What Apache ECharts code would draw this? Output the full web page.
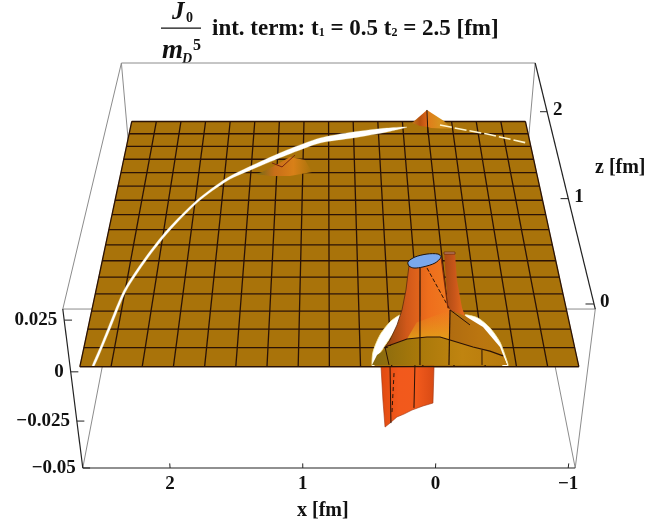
<!DOCTYPE html>
<html>
<head>
<meta charset="utf-8">
<title>int. term</title>
<script src="https://cdn.jsdelivr.net/npm/echarts@6/dist/echarts.min.js"></script>
<style>
  html, body { margin: 0; background: #fff; }
  #chart { width: 672px; height: 524px; }
</style>
</head>
<body>
<div id="chart"></div>
<script>
// tick labels
const xTicks = [2, 1, 0, -1]
const zTicks = [0, 1, 2]
const hTicks = [-0.05, -0.025, 0, 0.025]
const hLabels = ['\u22120.05', '\u22120.025', '0', '0.025']
const xLabels = ['2', '1', '0', '\u22121']

// surface mesh, 16 x 16 cells, heights are flat outside the peaks
const meshX = [-1, -0.775, -0.55, -0.325, -0.1, 0.125, 0.35, 0.575, 0.8, 1.025, 1.25, 1.475, 1.7, 1.925, 2.15, 2.375, 2.6]
const meshZ = [0, 0.1625, 0.325, 0.4875, 0.65, 0.8125, 0.975, 1.1375, 1.3, 1.4625, 1.625, 1.7875, 1.95, 2.1125, 2.275, 2.4375, 2.6]
const meshH = meshZ.map(() => meshX.map(() => 0))

// [x, z, height]
const arcUpper = [[2.513,0.006,0],[2.478,0.185,0],[2.45,0.344,0],[2.385,0.687,0],[2.265,1.003,0],[2.124,1.296,0],[1.91,1.628,0],[1.677,1.884,0],[1.461,2.041,0],[1.17,2.228,0],[0.878,2.382,0],[0.579,2.46,0],[0.27,2.513,0],[0.087,2.526,0]]
const arcLower = [[2.497,0.006,0],[2.46,0.185,0],[2.43,0.344,0],[2.367,0.677,0],[2.247,0.99,0],[2.106,1.28,0],[1.897,1.61,0],[1.668,1.855,0],[1.458,1.993,0],[1.168,2.165,0],[0.877,2.317,0],[0.581,2.382,0],[0.272,2.46,0]]
const arcRight = [[-0.215,2.553,0],[-0.392,2.5,0],[-0.629,2.434,0],[-0.972,2.317,0]]
const crescentLeft = [[0.492,0.006,0],[0.481,0.124,0],[0.424,0.272,0],[0.344,0.389,0],[0.265,0.452,0],[0.244,0.425,0],[0.335,0.272,0],[0.414,0.141,0],[0.454,0.073,0],[0.478,0.006,0]]
const crescentRight = [[-0.225,0.452,0],[-0.32,0.425,0],[-0.4,0.335,0],[-0.458,0.211,0],[-0.484,0.073,0],[-0.49,0.006,0],[-0.453,0.006,0],[-0.427,0.141,0],[-0.37,0.272,0],[-0.291,0.362,0]]
const topRing = [[0.227,0.375,0.0302],[0.173,0.421,0.0302],[0.083,0.449,0.0302],[0.002,0.449,0.0302],[-0.018,0.421,0.0302],[0.031,0.365,0.0302],[0.121,0.329,0.0302],[0.187,0.319,0.0302],[0.222,0.338,0.0302]]
const spikeCap = [[-0.044,0.468,0.0302],[-0.124,0.468,0.0302],[-0.123,0.449,0.0302],[-0.042,0.449,0.0302]]
const hanging = [[0.427,0,-0.0002],[0.045,0,0.0003],[0.039,0,-0.0184],[0.111,0,-0.0199],[0.191,0,-0.022],[0.249,0,-0.0241],[0.3,0,-0.0256],[0.35,0,-0.0288],[0.386,0,-0.0309],[0.407,0,-0.0168]]
const farLeft = [[-0.09,2.55,0.0085],[0.041,2.55,0.0012],[-0.033,2.55,-0.0004],[-0.106,2.55,-0.001]]
const farRight = [[-0.09,2.55,0.0085],[-0.106,2.55,-0.001],[-0.134,2.55,-0.0016],[-0.326,2.55,-0.0021],[-0.249,2.55,0.0024]]
const nearPeak = [[1.437,2.04,-0.0049],[1.384,2.04,-0.0038],[1.26,2.04,0.0001],[1.137,2.04,0.0044],[1.007,2.04,0.0028],[0.946,2.04,-0.0038],[1.14,2.04,-0.006],[1.315,2.04,-0.006]]
const nearRidge = [[1.295,2.04,0.0012],[1.208,2.04,-0.001],[1.093,2.04,0.0055]]
const trunk = [[0.222,0.338,0.0302],[0.238,0.33,0.0191],[0.262,0.33,0.0093],[0.295,0.33,0.0018],[0.344,0.33,-0.0058],[0.38,0.33,-0.0094],[0.217,0.33,-0.0053],[0.068,0.33,-0.0043],[-0.03,0.33,-0.0043],[-0.106,0.33,-0.0058],[-0.093,0.33,0.0093],[-0.077,0.33,0.0102],[-0.018,0.421,0.0302]]
const spike = [[-0.044,0.468,0.0302],[-0.124,0.468,0.0302],[-0.131,0.33,0.0239],[-0.181,0.33,0.0102],[-0.207,0.33,0.0063],[-0.093,0.33,0.0093],[-0.077,0.33,0.0102],[-0.051,0.33,0.0239]]
const skirtRight = [[-0.093,0.33,0.0093],[-0.207,0.33,0.0063],[-0.346,0.33,0.0008],[-0.485,0.33,-0.0094],[-0.55,0.33,-0.0187],[-0.117,0.33,-0.0187]]
const skirtRim = [[0.38,0.33,-0.0094],[0.217,0.33,-0.0053],[0.068,0.33,-0.0043],[-0.03,0.33,-0.0043],[-0.106,0.33,-0.0058],[-0.282,0.33,-0.0094],[-0.412,0.33,-0.0115],[-0.514,0.33,-0.014]]
const skirtLow = [[0.475,0.33,-0.0187],[0.439,0.33,-0.0135],[0.343,0.33,-0.0089],[0.217,0.33,-0.0053],[0.068,0.33,-0.0043],[-0.03,0.33,-0.0043],[-0.106,0.33,-0.0058],[-0.282,0.33,-0.0094],[-0.412,0.33,-0.0115],[-0.514,0.33,-0.014],[-0.55,0.33,-0.0187]]
const glow = [[0.15,0.33,0.003],[-0.093,0.33,0.0093],[-0.106,0.33,-0.0058],[-0.03,0.33,-0.0043],[0.068,0.33,-0.0043],[0.217,0.33,-0.0053]]

// box limits
const xMin = -1.053, xMax = 2.658
const zMin = -0.043, zMax = 2.649
const hMin = -0.05, hMax = 0.0302

// camera, fitted to the corners of the box
function project(x, z, h) {
  const D = 0.016 + 0.3715 * z
  const H = (h + 0.05) / 0.0802
  const X = (0.8025 - x) * 132.7
  const w = 1 + 0.2653 * D - 0.0752 * H
  return [(329 + X + 86.4 * D - 24.7 * H) / w, (468 - 210.8 * D - 182.2 * H) / w]
}

const lineColor = '#2a1206'
const ink = '#111'
const serif = '"Liberation Serif"'
const grad = (x2, y2, stops) => new echarts.graphic.LinearGradient(0, 0, x2, y2,
  stops.map((c, i) => ({ offset: i / (stops.length - 1), color: c })))

const marks = []
const poly = (pts, fill, stroke, lineWidth, smooth) => marks.push({ kind: 'polygon', pts, fill, stroke, lineWidth: lineWidth || 0, smooth })
const line = (pts, stroke, lineWidth, dash) => marks.push({ kind: 'polyline', pts, stroke, lineWidth: lineWidth || 1, dash })
const label = (pt, text, dx, dy, align) => marks.push({ kind: 'text', pt, text, dx, dy, align })

// back and hidden box edges
const grey = '#8c8c8c', black = '#222'
const c = (i, j, k) => [i ? xMax : xMin, j ? zMax : zMin, k ? hMax : hMin]
;[
  [c(0,1,1), c(1,1,1)], [c(1,1,1), c(1,0,1)], [c(1,0,1), c(0,0,1)], [c(0,0,1), c(0,0,0)],
  [c(1,1,1), c(1,1,0)], [c(0,1,1), c(0,1,0)], [c(1,0,0), c(1,1,0)], [c(0,0,0), c(0,1,0)]
].forEach((e) => line(e, grey, 1))
line([c(1,0,0), c(1,0,1)], black, 1.2)
line([c(0,0,0), c(1,0,0)], black, 1.2)
line([c(0,0,1), c(0,1,1)], black, 1.2)

// surface cells and mesh lines
const node = (i, j) => [meshX[j], meshZ[i], meshH[i][j]]
const surfaceColor = '#a9730a'
for (let i = 0; i < meshZ.length - 1; i++) {
  for (let j = 0; j < meshX.length - 1; j++) {
    poly([node(i, j), node(i, j + 1), node(i + 1, j + 1), node(i + 1, j)], surfaceColor, surfaceColor, 0.5)
  }
}
meshZ.forEach((z, i) => line(meshX.map((x, j) => node(i, j)), lineColor, 1.3))
meshX.forEach((x, j) => line(meshZ.map((z, i) => node(i, j)), lineColor, 1.3))

// the two far peaks
poly(nearPeak, grad(1, 0, ['#6f6a16', '#c86e18', '#d88018', '#a9730a']))
line(nearRidge, '#7a2410', 1)
poly(farRight, grad(1, 0, ['#e07a1a', '#d8921e', '#b87a0e']))
poly(farLeft, grad(1, 0, ['#c0781a', '#b8500f', '#e0681a']))
line([[-0.09, 2.55, 0.0085], [-0.109, 2.55, -0.0055]], lineColor, 1)

// gap in the sheet around the light cone
poly(arcUpper.concat(arcLower.slice().reverse()), '#fff', '#fdf6c4', 0.3, 0.25)
line(arcRight, '#fff6d0', 1.6, [12, 3])
poly(crescentLeft, '#fff', '#fbf0a8', 0.8, 0.25)
poly(crescentRight, '#fff', '#fbf0a8', 0.8, 0.25)

// part hanging below the sheet
poly(hanging, grad(1, 0, ['#e04a10', '#f2591c', '#f25a1c', '#d84a14']), '#a0300c', 0.6)
line([[0.362, 0, -0.0002], [0.343, 0, -0.0288]], lineColor, 1)
line([[0.332, 0, -0.0032], [0.338, 0, -0.0235]], lineColor, 1, [4, 3])
line([[0.183, 0, 0.0008], [0.177, 0, -0.0209]], lineColor, 1)

// volcano body
poly(skirtRight, grad(1, 0, ['#b06c10', '#ba7510', '#b87a0c']))
poly(skirtLow, grad(1, 0, ['#85690f', '#a8780a', '#c08410', '#b87a0c']))
poly(spike, grad(1, 0, ['#a84a12', '#c8561a', '#ea6c1c']))
poly(trunk, grad(1, 0, ['#8e420e', '#d0581a', '#ee6e1c', '#f07a20']))
poly(glow, grad(0, 1, ['rgba(230,150,30,0)', 'rgba(226,160,24,0.95)']))

line(skirtRim, lineColor, 1.2)
line([[0.142, 0.33, 0.0296], [0.111, 0.33, -0.0187]], lineColor, 1.2)
line([[-0.093, 0.33, 0.0093], [-0.109, 0.33, -0.0187]], lineColor, 1.2)
line([[0.091, 0.33, 0.0296], [-0.093, 0.33, 0.0093]], lineColor, 1, [4, 2])
line([[-0.018, 0.421, 0.0302], [-0.077, 0.33, 0.0102]], '#7a2a0c', 1.2)
line([[0.38, 0.33, -0.0094], [0.346, 0.33, -0.0187]], lineColor, 1)
line([[-0.093, 0.33, 0.0093], [-0.248, 0.33, 0.0018]], lineColor, 1)
line([[-0.351, 0.33, -0.0109], [-0.36, 0.33, -0.0187]], lineColor, 1)
line(trunk.slice(0, 6), '#5a2a0c', 0.8)

poly(spikeCap, '#c88a68', '#6a2c10', 0.8)
poly(topRing, '#7aa8ec', '#1c120c', 1, 0.3)

// front edge of the sheet over everything
line(meshX.map((x, j) => node(0, j)), lineColor, 1.4)

// ticks and their labels
const xTickLen = 0.0025, hTickLen = 0.055, zTickLen = 0.06
xTicks.forEach((x, i) => {
  line([[x, zMin, hMin], [x, zMin, hMin + xTickLen]], black, 1)
  label([x, zMin, hMin], xLabels[i], 0, 16, 'center')
})
hTicks.forEach((h, i) => {
  line([[xMax, zMin, h], [xMax - hTickLen, zMin, h]], black, 1)
  label([xMax, zMin, h], hLabels[i], -7, 0, 'right')
})
zTicks.forEach((z) => {
  line([[xMin, z, hMax], [xMin + zTickLen, z, hMax]], black, 1)
  label([xMin, z, hMax], String(z), 6, -2, 'left')
})

function renderMark(params, api) {
  const m = marks[api.value(0)]
  const toPixel = (p) => api.coord(project(p[0], p[1], p[2]))
  if (m.kind === 'text') {
    const p = toPixel(m.pt)
    return {
      type: 'text',
      style: {
        x: p[0] + m.dx, y: p[1] + m.dy, text: m.text, align: m.align, verticalAlign: 'middle',
        fontFamily: serif, fontWeight: 'bold', fontSize: 19, fill: ink
      }
    }
  }
  return {
    type: m.kind,
    shape: { points: m.pts.map(toPixel), smooth: m.smooth || 0 },
    style: m.kind === 'polygon'
      ? { fill: m.fill, stroke: m.stroke || null, lineWidth: m.lineWidth }
      : { fill: null, stroke: m.stroke, lineWidth: m.lineWidth, lineDash: m.dash || null }
  }
}

const bold = (text, left, top, size, italic) => ({
  type: 'text', left, top,
  style: { text, fontFamily: serif, fontWeight: 'bold', fontStyle: italic ? 'italic' : 'normal', fontSize: size, fill: ink }
})

const chart = echarts.init(document.getElementById('chart'), null, { renderer: 'canvas' })
chart.setOption({
  animation: false,
  backgroundColor: '#fff',
  grid: { left: 0, right: 0, top: 0, bottom: 0 },
  xAxis: { type: 'value', min: 0, max: 672, show: false },
  yAxis: { type: 'value', min: 0, max: 524, inverse: true, show: false },
  title: {
    text: 'int. term: t{sub|1} = 0.5 t{sub|2} = 2.5 [fm]',
    left: 212, top: 18, padding: 0,
    textStyle: {
      fontFamily: serif, fontWeight: 'bold', fontSize: 23, color: ink,
      rich: { sub: { fontFamily: serif, fontWeight: 'bold', fontSize: 12, color: ink, padding: [7, 0, 0, 0] } }
    }
  },
  series: [{
    type: 'custom',
    coordinateSystem: 'cartesian2d',
    clip: false,
    silent: true,
    data: marks.map((m, i) => [i]),
    encode: { x: 0, y: 0 },
    renderItem: renderMark
  }],
  graphic: [
    bold('J', 172, 0, 25, true),
    bold('0', 186, 11, 14, false),
    { type: 'rect', shape: { x: 161, y: 27.5, width: 40, height: 1.2 }, style: { fill: ink } },
    bold('m', 162, 38, 27, true),
    bold('D', 182, 52, 14, true),
    bold('5', 193, 38, 16, false),
    bold('x [fm]', 297, 501, 20),
    bold('z [fm]', 595, 158, 20)
  ]
})
</script>
</body>
</html>
